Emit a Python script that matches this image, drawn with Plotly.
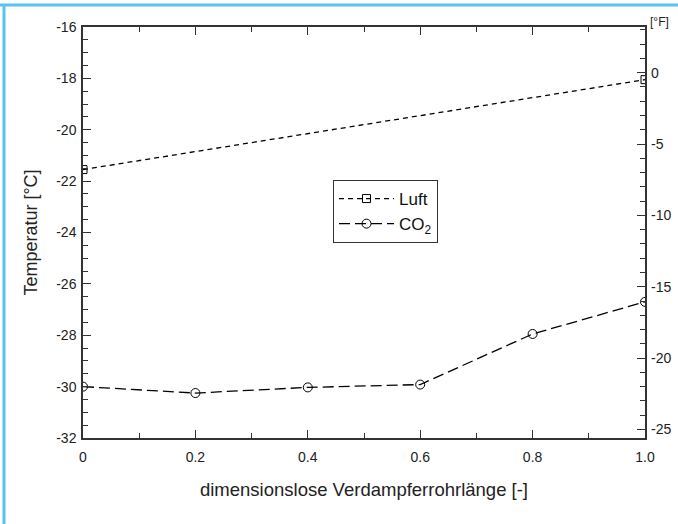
import plotly.graph_objects as go

# ---- data ----
x_luft = [0.0, 1.0]
y_luft = [-21.55, -18.05]
x_co2 = [0.0, 0.2, 0.4, 0.6, 0.8, 1.0]
y_co2 = [-30.0, -30.25, -30.03, -29.92, -27.95, -26.7]

x_ticks = [0, 0.2, 0.4, 0.6, 0.8, 1.0]
x_ticktext = ["0", "0.2", "0.4", "0.6", "0.8", "1.0"]
yc_ticks = [-32, -30, -28, -26, -24, -22, -20, -18, -16]
yc_ticktext = ["-32", "-30", "-28", "-26", "-24", "-22", "-20", "-18", "-16"]
yf_ticks = [-25, -20, -15, -10, -5, 0]
yf_ticktext = ["-25", "-20", "-15", "-10", "-5", "0"]

C_MIN, C_MAX = -32, -16
F_MIN, F_MAX = C_MIN * 9 / 5 + 32, C_MAX * 9 / 5 + 32

W, H = 678, 524
L, R, T, B = 83, 33, 27, 86
pw, ph = W - L - R, H - T - B

def px2paper_x(px):
    return (px - L) / pw

def px2paper_y(py):
    return (H - B - py) / ph

FONT = "Liberation Sans, Arial, sans-serif"
BLUE = "#58c3ee"

fig = go.Figure()
fig.add_trace(go.Scatter(
    x=x_luft, y=y_luft, name="Luft", mode="lines+markers",
    line=dict(color="black", width=1.3, dash="5px,4px"),
    marker=dict(symbol="square-open", size=8, color="black", line=dict(width=1)),
))
fig.add_trace(go.Scatter(
    x=x_co2, y=y_co2, name="CO<sub>2</sub>", mode="lines+markers",
    line=dict(color="black", width=1.3, dash="11px,5px"),
    marker=dict(symbol="circle-open", size=9, color="black", line=dict(width=1)),
))
# invisible trace to activate the Fahrenheit axis
fig.add_trace(go.Scatter(x=[0], y=[F_MIN], yaxis="y2", mode="markers",
                         marker=dict(opacity=0), showlegend=False, hoverinfo="skip"))

fig.update_layout(
    width=W, height=H,
    margin=dict(l=L, r=R, t=T, b=B, autoexpand=False),
    paper_bgcolor="white", plot_bgcolor="white",
    font=dict(family=FONT, color="#222", size=14),
    showlegend=True,
    legend=dict(
        x=px2paper_x(333), y=px2paper_y(180), xanchor="left", yanchor="top",
        bordercolor="#333", borderwidth=1, bgcolor="white",
        font=dict(size=17, family=FONT, color="#111"),
        tracegroupgap=0, itemwidth=55,
    ),
    xaxis=dict(
        range=[0, 1], tickvals=x_ticks, ticktext=x_ticktext, automargin=False,
        ticks="inside", ticklen=8, tickcolor="#333", tickwidth=1,
        minor=dict(dtick=0.1, ticks="inside", ticklen=5, tickcolor="#333"),
        showline=True, linecolor="#333", linewidth=1.5, mirror="ticks",
        showgrid=False, zeroline=False,
        tickfont=dict(size=14), ticklabelstandoff=5,
        title=dict(text="dimensionslose Verdampferrohrlänge [-]",
                   font=dict(size=18.5, color="#222"), standoff=20),
    ),
    yaxis=dict(
        range=[C_MIN, C_MAX], tickvals=yc_ticks, ticktext=yc_ticktext, automargin=False,
        ticks="inside", ticklen=8, tickcolor="#333", tickwidth=1,
        minor=dict(dtick=0.5, ticks="inside", ticklen=5, tickcolor="#333"),
        showline=True, linecolor="#333", linewidth=1.5, mirror=True,
        showgrid=False, zeroline=False,
        tickfont=dict(size=14), ticklabelstandoff=2,
        title=dict(text="Temperatur [°C]", font=dict(size=18, color="#222"), standoff=14),
    ),
    yaxis2=dict(
        overlaying="y", side="right", range=[F_MIN, F_MAX], automargin=False,
        tickvals=yf_ticks, ticktext=yf_ticktext,
        ticks="inside", ticklen=8, tickcolor="#333", tickwidth=1,
        minor=dict(dtick=1, ticks="inside", ticklen=5, tickcolor="#333"),
        showline=False, showgrid=False, zeroline=False,
        tickfont=dict(size=14), ticklabelstandoff=5,
    ),
    annotations=[dict(
        text="[°F]", xref="paper", yref="paper",
        x=px2paper_x(648), y=px2paper_y(22), xanchor="left", yanchor="middle",
        showarrow=False, font=dict(size=12, color="#222"),
    )],
    shapes=[
        dict(type="line", xref="paper", yref="paper",
             x0=px2paper_x(0), x1=px2paper_x(W), y0=px2paper_y(5), y1=px2paper_y(5),
             line=dict(color=BLUE, width=3)),
        dict(type="line", xref="paper", yref="paper",
             x0=px2paper_x(4), x1=px2paper_x(4), y0=px2paper_y(4), y1=px2paper_y(H),
             line=dict(color=BLUE, width=3)),
    ],
)

fig.write_html("out.html", config={"displayModeBar": False},
               post_script="document.body.style.margin='0';document.body.style.overflow='hidden';")
